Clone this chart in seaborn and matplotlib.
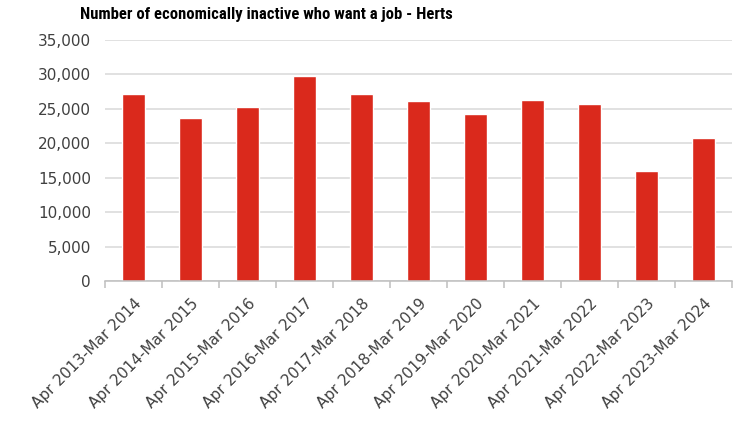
import matplotlib
matplotlib.use("Agg")
import matplotlib.pyplot as plt
import seaborn as sns
import pandas as pd
import numpy as np
from matplotlib.ticker import FuncFormatter, FixedLocator

periods = ["Apr 2013-Mar 2014", "Apr 2014-Mar 2015", "Apr 2015-Mar 2016",
           "Apr 2016-Mar 2017", "Apr 2017-Mar 2018", "Apr 2018-Mar 2019",
           "Apr 2019-Mar 2020", "Apr 2020-Mar 2021", "Apr 2021-Mar 2022",
           "Apr 2022-Mar 2023", "Apr 2023-Mar 2024"]
values = [27100, 23700, 25200, 29700, 27100, 26200, 24200, 26300, 25650, 16000, 20800]
y_ticks = [0, 5000, 10000, 15000, 20000, 25000, 30000, 35000]
title = "Number of economically inactive who want a job - Herts"

df = pd.DataFrame({"period": periods, "value": values})

sns.set_theme(style="white")
plt.rcParams['font.family'] = ['DejaVu Sans']

W, H = 736, 421
fig = plt.figure(figsize=(W / 100, H / 100), dpi=100)
ax = fig.add_axes([105 / W, (H - 281) / H, (732 - 105) / W, (281 - 40) / H])

sns.barplot(data=df, x="period", y="value", order=periods, color="#DA291C",
            saturation=1, width=0.4, ax=ax, zorder=3)

ax.set_ylim(0, 35000)
ax.set_xlim(-0.5, len(periods) - 0.5)
ax.set_yticks(y_ticks)
ax.yaxis.set_major_formatter(FuncFormatter(lambda v, p: f"{int(v):,}"))
ax.grid(axis="y", color="#d9d9d9", linewidth=1.1, zorder=0)
ax.set_axisbelow(True)

for s in ["top", "right", "left"]:
    ax.spines[s].set_visible(False)
ax.spines["bottom"].set_color("#bfbfbf")
ax.spines["bottom"].set_linewidth(1.1)
ax.spines["bottom"].set_zorder(4)

ax.set_xlabel("")
ax.set_ylabel("")
ax.tick_params(axis="y", length=0, pad=10, labelsize=11, labelcolor="#404040")
ax.tick_params(axis="x", which="major", length=0, pad=11, labelsize=11, labelcolor="#404040")
ax.xaxis.set_minor_locator(FixedLocator(np.arange(-0.5, len(periods), 1.0)))
ax.tick_params(axis="x", which="minor", length=5, width=1.1, color="#bfbfbf", bottom=True)
plt.setp(ax.get_xticklabels(), rotation=45, ha="right", rotation_mode="anchor")

fig.text(80 / W, 1 - 15 / H, title, ha="left", va="center", fontsize=12,
         fontweight="bold", fontstretch="condensed",
         family=["Roboto Condensed", "Open Sans Condensed", "Liberation Sans Narrow", "Roboto", "DejaVu Sans"],
         color="black")

fig.savefig("out.png", dpi=100)
